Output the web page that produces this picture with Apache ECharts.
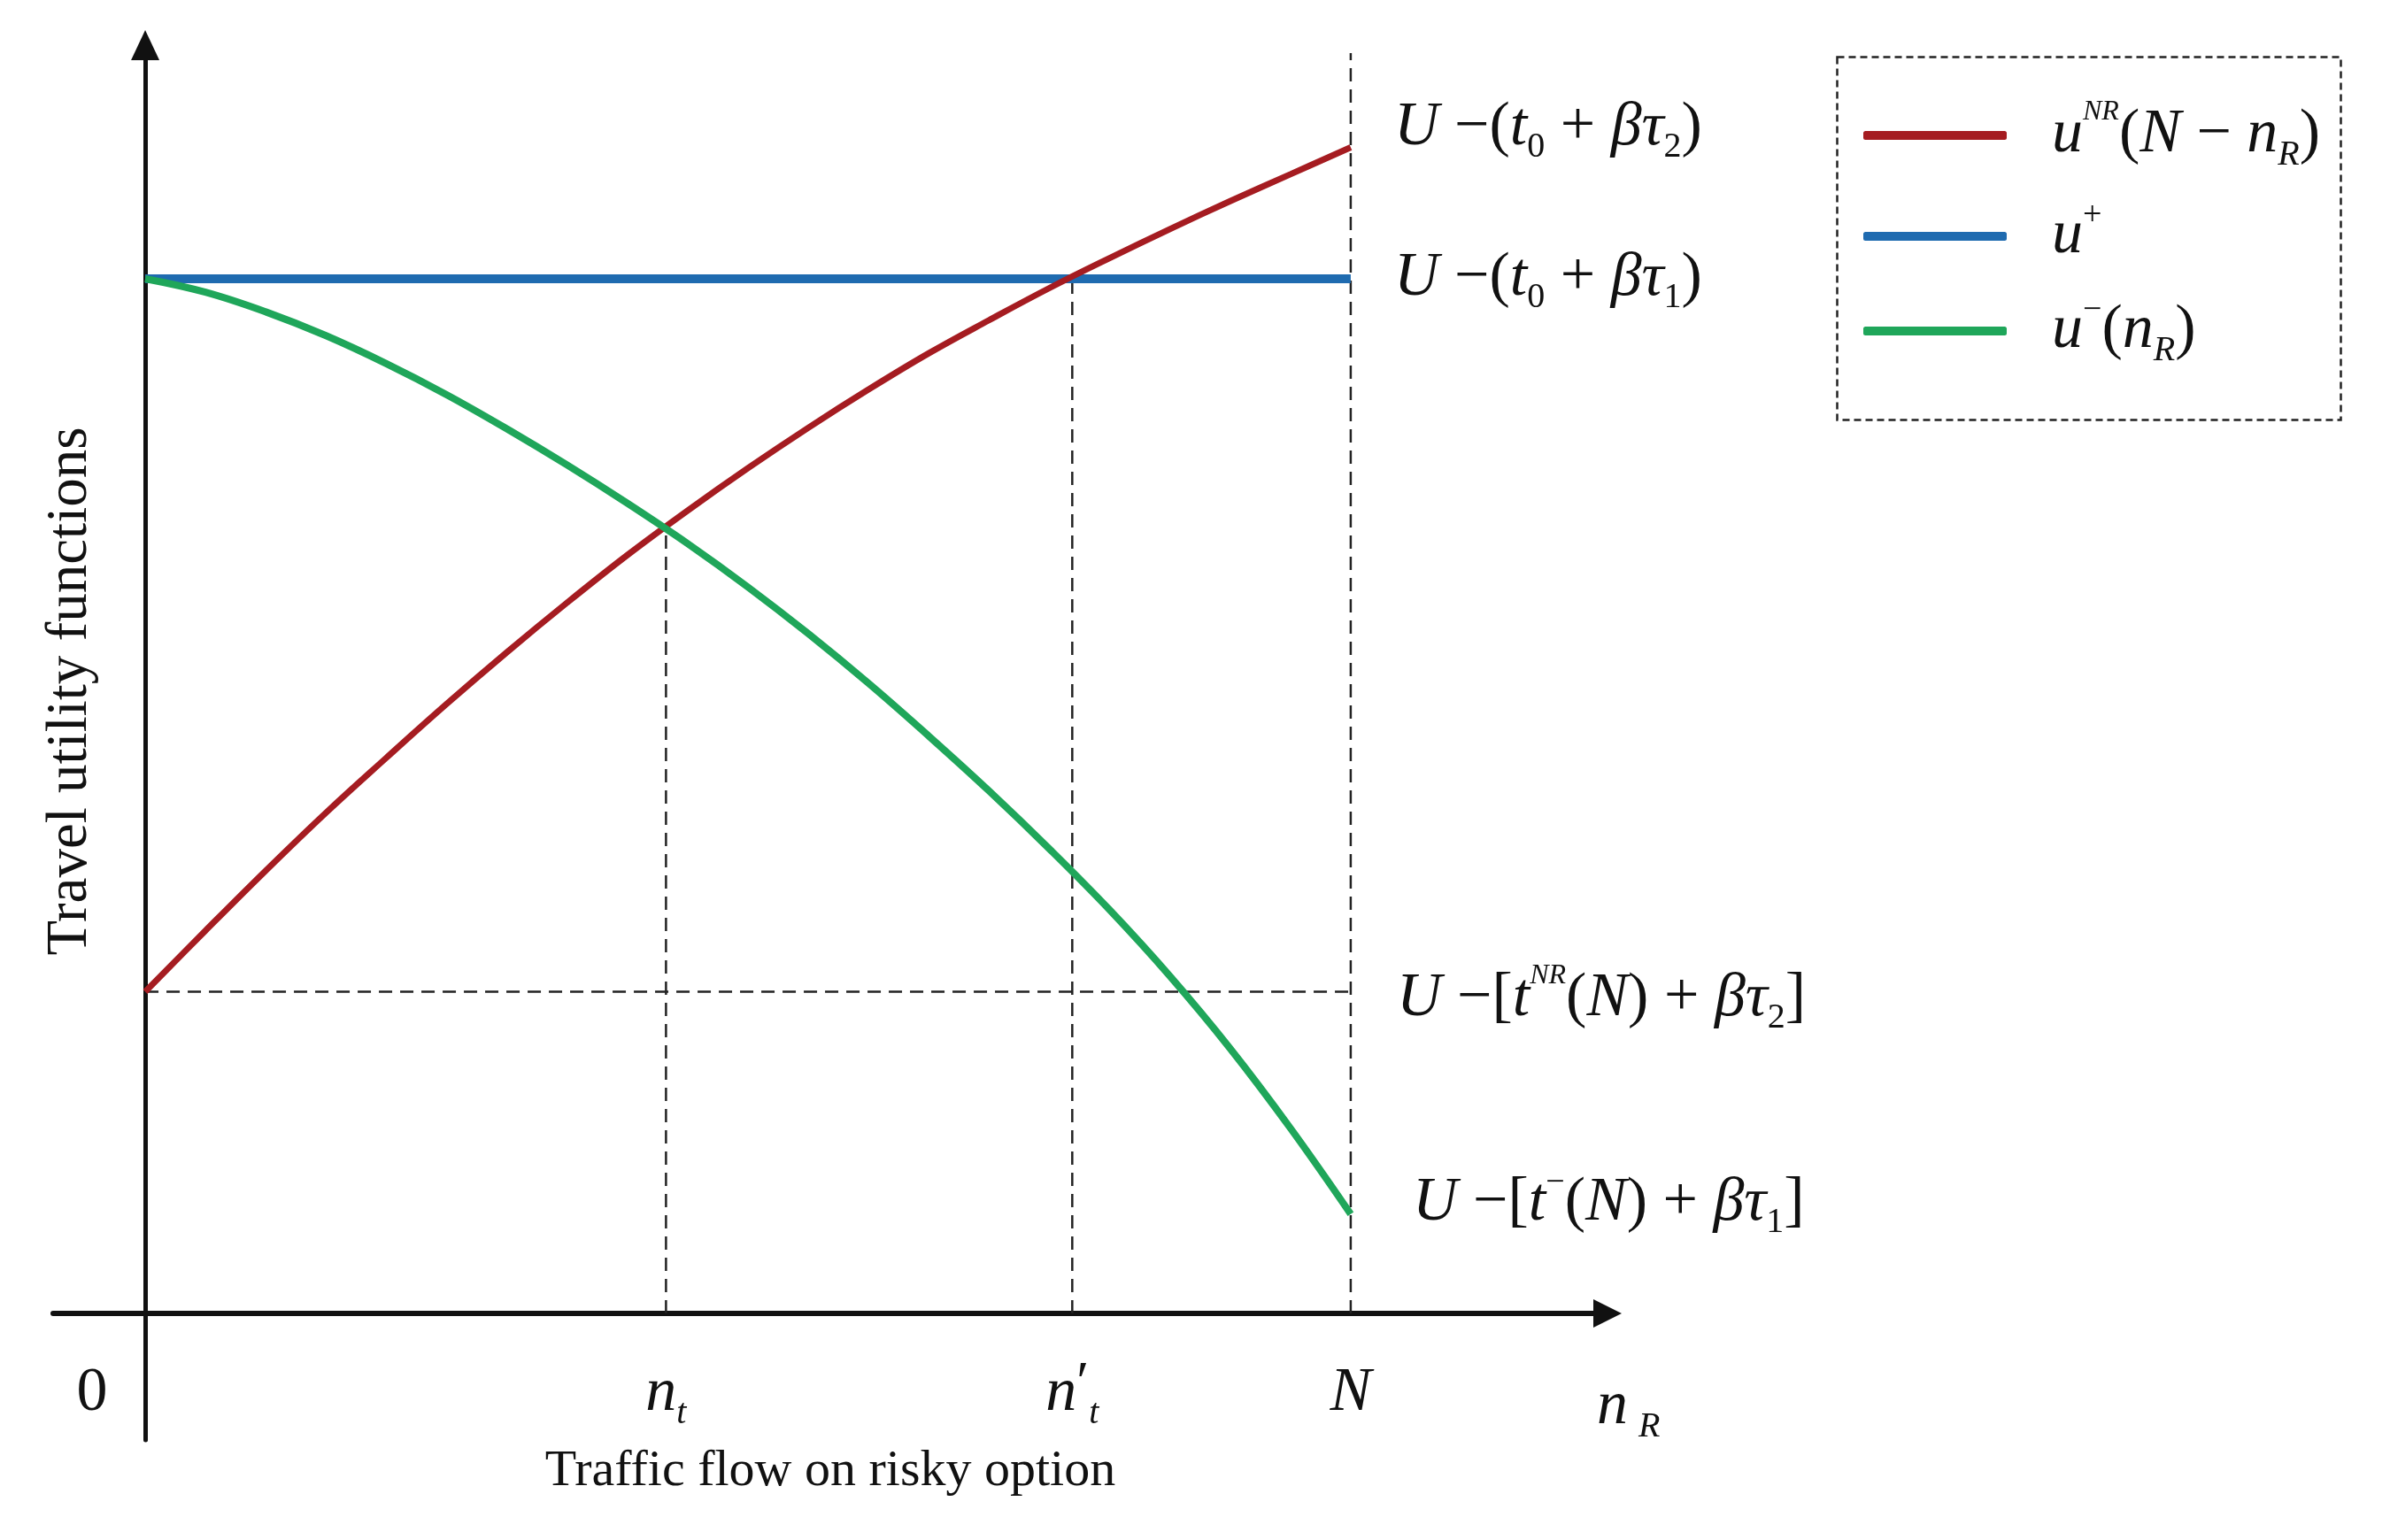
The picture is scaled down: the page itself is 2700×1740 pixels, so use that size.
<!DOCTYPE html>
<html>
<head>
<meta charset="utf-8">
<script src="https://cdn.jsdelivr.net/npm/echarts@6/dist/echarts.min.js"></script>
<style>html,body{margin:0;padding:0;background:#fff}#chart{width:2700px;height:1740px}</style>
</head>
<body>
<div id="chart"></div>
<script>
// ---------------- data (schematic units) ----------------
const xTickValues = [0, 4.32, 7.69, 10];
const xTickLabels = ['0', 'n_t', "n'_t", 'N'];

const redX = [0, 0.5, 1, 1.5, 2, 2.5, 3, 3.5, 4, 4.5, 5, 5.5, 6, 6.5, 7, 7.5, 8, 8.5, 9, 9.5, 10];
const redY = [3.11, 3.70, 4.28, 4.84, 5.37, 5.89, 6.39, 6.87, 7.33, 7.76, 8.17, 8.56, 8.93, 9.28, 9.60, 9.91, 10.20, 10.48, 10.75, 11.01, 11.27];

const blueX = [0, 10];
const blueY = [10, 10];

const greenX = [0, 0.5, 1, 1.5, 2, 2.5, 3, 3.5, 4, 4.5, 5, 5.5, 6, 6.5, 7, 7.5, 8, 8.5, 9, 9.5, 10];
const greenY = [10, 9.87, 9.68, 9.45, 9.18, 8.88, 8.55, 8.20, 7.83, 7.44, 7.02, 6.57, 6.09, 5.58, 5.05, 4.49, 3.90, 3.26, 2.56, 1.79, 0.96];

// dashed guides: vertical [x, yFrom, yTo], horizontal [y, xFrom, xTo]
const guideV = [[4.32, 0, 7.61], [7.69, 0, 10], [10, 0, 12.18]];
const guideH = [[3.11, 0, 10]];

const seriesNames = ['uNR(N-nR)', 'u+', 'u-(nR)'];

// ---------------- styling ----------------
const F = 'Liberation Serif';
const INK = '#111';
const RED = '#A51C21', BLUE = '#1F6BB0', GREEN = '#1FA65A';
const MAIN = 70, SUB = 40, SUP = 32, LH = 84;

const rich = {
  i:   {fontFamily: F, fontStyle: 'italic', fontSize: MAIN, lineHeight: LH, color: INK},
  r:   {fontFamily: F, fontSize: MAIN, lineHeight: LH, color: INK},
  ip:  {fontFamily: F, fontStyle: 'italic', fontSize: MAIN, lineHeight: LH, color: INK, padding: [0, 0, 0, 46]},
  z:   {fontFamily: F, fontSize: MAIN, lineHeight: LH, color: INK, padding: [0, 120, 0, 0]},
  sb:  {fontFamily: F, fontSize: SUB, lineHeight: 30, color: INK, verticalAlign: 'bottom'},
  isb: {fontFamily: F, fontStyle: 'italic', fontSize: SUB, lineHeight: 30, color: INK, verticalAlign: 'bottom'},
  isbg:{fontFamily: F, fontStyle: 'italic', fontSize: SUB, lineHeight: 30, color: INK, verticalAlign: 'bottom', padding: [0, 0, 0, 12]},
  sp:  {fontFamily: F, fontSize: 38, lineHeight: 48, color: INK, verticalAlign: 'top'},
  isp: {fontFamily: F, fontStyle: 'italic', fontSize: SUP, lineHeight: 44, color: INK, verticalAlign: 'top'},
  pr:  {fontFamily: F, fontSize: 64, lineHeight: 64, color: INK, verticalAlign: 'top'}
};

const endTexts = {
  red:   '{i|U}{r| −(}{i|t}{sb|0}{r| + }{i|βτ}{sb|2}{r|)}',
  blue:  '{i|U}{r| −(}{i|t}{sb|0}{r| + }{i|βτ}{sb|1}{r|)}',
  guide: '{i|U}{r| −[}{i|t}{isp|NR}{r|(}{i|N}{r|) + }{i|βτ}{sb|2}{r|]}',
  green: '{i|U}{r| −[}{i|t}{sp|−}{r|(}{i|N}{r|) + }{i|βτ}{sb|1}{r|]}'
};
const legendTexts = {
  'uNR(N-nR)': '{ip|u}{isp|NR}{r|(}{i|N}{r| − }{i|n}{isb|R}{r|)}',
  'u+':        '{ip|u}{sp|+}',
  'u-(nR)':    '{ip|u}{sp|−}{r|(}{i|n}{isb|R}{r|)}'
};
const tickRich = {
  '0': '{z|0}',
  'n_t': '{i|n}{isb|t}',
  "n'_t": '{i|n}{pr|′}{isb|t}',
  'N': '{i|N}'
};

const zip = (xs, ys) => xs.map((x, k) => [x, ys[k]]);

function guideSeries(points, label) {
  const s = {
    type: 'line', data: points, symbol: 'none', silent: true, z: 1,
    lineStyle: {color: '#222', width: 2.5, type: [15, 9]}
  };
  if (label) s.endLabel = label;
  return s;
}

const series = [];
guideV.forEach(g => series.push(guideSeries([[g[0], g[1]], [g[0], g[2]]])));
guideH.forEach(g => series.push(guideSeries([[g[1], g[0]], [g[2], g[0]]],
  {show: true, formatter: endTexts.guide, rich: rich, distance: 52, offset: [0, 8]})));

series.push({
  name: seriesNames[0], type: 'line', data: zip(redX, redY), smooth: 0.4,
  symbol: 'none', z: 4,
  color: RED, lineStyle: {color: RED, width: 7},
  endLabel: {show: true, formatter: endTexts.red, rich: rich, distance: 49, offset: [0, -22]}
});
series.push({
  name: seriesNames[1], type: 'line', data: zip(blueX, blueY), symbol: 'none', z: 3,
  color: BLUE, lineStyle: {color: BLUE, width: 10},
  endLabel: {show: true, formatter: endTexts.blue, rich: rich, distance: 49, offset: [0, 0]}
});
series.push({
  name: seriesNames[2], type: 'line', data: zip(greenX, greenY), smooth: 0.4,
  symbol: 'none', z: 4,
  color: GREEN, lineStyle: {color: GREEN, width: 8},
  endLabel: {show: true, formatter: endTexts.green, rich: rich, distance: 70, offset: [0, -12]}
});

const X_MIN = -0.764, X_MAX = 12.13, Y_MIN = -1.223, Y_MAX = 12.258;

const option = {
  animation: false,
  backgroundColor: '#fff',
  textStyle: {fontFamily: F, color: INK},
  grid: {left: 60, right: 884, top: 51, bottom: 113, containLabel: false, outerBoundsMode: 'none'},
  legend: {
    data: seriesNames, orient: 'vertical', left: 2100, top: 106,
    itemWidth: 162, itemHeight: 10, itemGap: 30, icon: 'roundRect',
    selectedMode: false,
    formatter: name => legendTexts[name],
    textStyle: {rich: rich}
  },
  xAxis: [{
    type: 'value', min: X_MIN, max: X_MAX,
    axisLine: {show: true, onZero: true, symbol: ['none', 'triangle'], symbolSize: [32, 32],
               lineStyle: {color: INK, width: 6}},
    axisTick: {show: false}, splitLine: {show: false}, axisLabel: {show: false},
    name: '{i|n}{isbg|R}', nameLocation: 'end', nameGap: -12,
    nameTextStyle: {rich: rich, padding: [212, 0, 0, 0]}
  }, {
    type: 'value', min: X_MIN, max: X_MAX, position: 'bottom',
    axisLine: {show: false, onZero: false}, axisTick: {show: false}, splitLine: {show: false},
    axisLabel: {
      show: true, customValues: xTickValues, margin: -94, rich: rich,
      formatter: v => {
        const k = xTickValues.indexOf(v);
        return k >= 0 ? tickRich[xTickLabels[k]] : '';
      }
    },
    name: 'Traffic flow on risky option', nameLocation: 'middle', nameGap: 7,
    nameTextStyle: {fontFamily: F, fontSize: 58, color: INK}
  }],
  yAxis: {
    type: 'value', min: Y_MIN, max: Y_MAX,
    axisLine: {show: true, onZero: true, symbol: ['none', 'triangle'], symbolSize: [32, 34],
               lineStyle: {color: INK, width: 5}},
    axisTick: {show: false}, axisLabel: {show: false}, splitLine: {show: false},
    name: 'Travel utility functions', nameLocation: 'middle', nameGap: -52, nameRotate: 90,
    nameTextStyle: {fontFamily: F, fontSize: 65, color: INK, padding: [0, 0, 0, 116]}
  },
  graphic: [{
    type: 'rect', left: 2073, top: 62, silent: true,
    shape: {width: 569, height: 410},
    style: {fill: 'none', stroke: '#222', lineWidth: 2.5, lineDash: [8, 5]}
  }],
  series: series
};

const chart = echarts.init(document.getElementById('chart'), null, {renderer: 'canvas'});
chart.setOption(option);
</script>
</body>
</html>
